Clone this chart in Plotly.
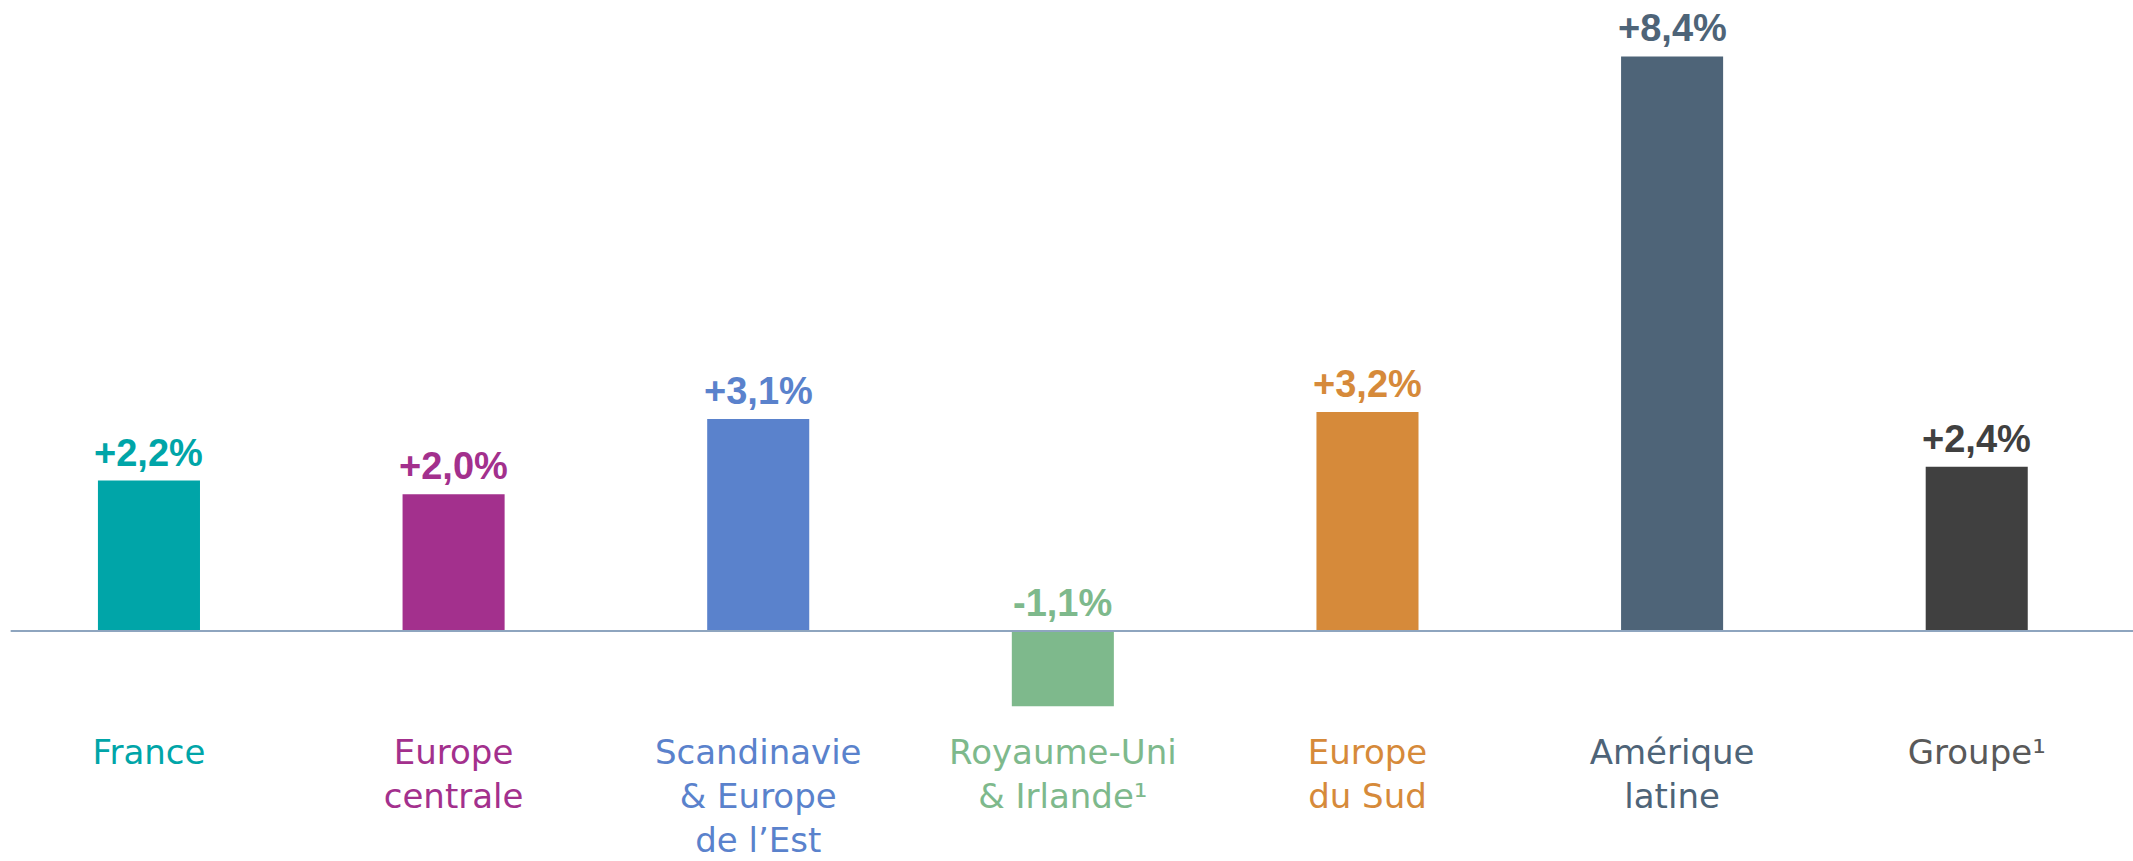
import plotly.graph_objects as go

# categories, growth values (%) and colours
regions = ["France", "Europe<br>centrale", "Scandinavie<br>& Europe<br>de l’Est",
           "Royaume-Uni<br>& Irlande¹", "Europe<br>du Sud",
           "Amérique<br>latine", "Groupe¹"]
growth = [2.2, 2.0, 3.1, -1.1, 3.2, 8.4, 2.4]
value_labels = ["+2,2%", "+2,0%", "+3,1%", "-1,1%", "+3,2%", "+8,4%", "+2,4%"]
bar_colors = ["#00A5A8", "#A3308D", "#5A82CC", "#7EB98C", "#D68A3A", "#4E6478", "#404040"]
label_colors = ["#00A5A8", "#A3308D", "#5A82CC", "#7EB98C", "#D68A3A", "#4E6478", "#595959"]

x = list(range(len(regions)))

fig = go.Figure()
fig.add_trace(go.Bar(
    x=x, y=growth,
    marker=dict(color=bar_colors, line=dict(width=0)),
    hoverinfo="skip",
))

# value labels sit above the baseline / bar top, even for the negative bar
for i, (v, txt, c) in enumerate(zip(growth, value_labels, bar_colors)):
    fig.add_annotation(
        x=i, y=max(v, 0), text=f"<b>{txt}</b>", showarrow=False,
        yanchor="bottom", yshift=5,
        font=dict(family="Liberation Sans, Arial, sans-serif", size=38, color=c),
    )

# baseline
fig.add_shape(type="line", xref="paper", yref="y", x0=0.005, x1=1, y0=0, y1=0,
              line=dict(color="#8EA5BF", width=2), layer="above")

tick_text = [f'<span style="color:{c}">{t}</span>' for t, c in zip(regions, label_colors)]

fig.update_layout(
    width=2133, height=861,
    margin=dict(l=0, r=0, t=0, b=132, autoexpand=False),
    paper_bgcolor="white", plot_bgcolor="white",
    bargap=0.665,
    showlegend=False,
    font=dict(family="DejaVu Sans, sans-serif", size=34),
    xaxis=dict(
        range=[-0.489, 6.513], tickmode="array", tickvals=x, ticktext=tick_text,
        showgrid=False, zeroline=False, showline=False, ticks="", automargin=False,
        tickfont=dict(family="DejaVu Sans, sans-serif", size=34),
    ),
    yaxis=dict(
        range=[-1.433, 9.225], visible=False, showgrid=False, zeroline=False,
        automargin=False,
    ),
)

# drop the default page margin so the figure fills the window exactly
fig.write_html("out.html", config={"displayModeBar": False},
               post_script="document.body.style.margin='0';")
